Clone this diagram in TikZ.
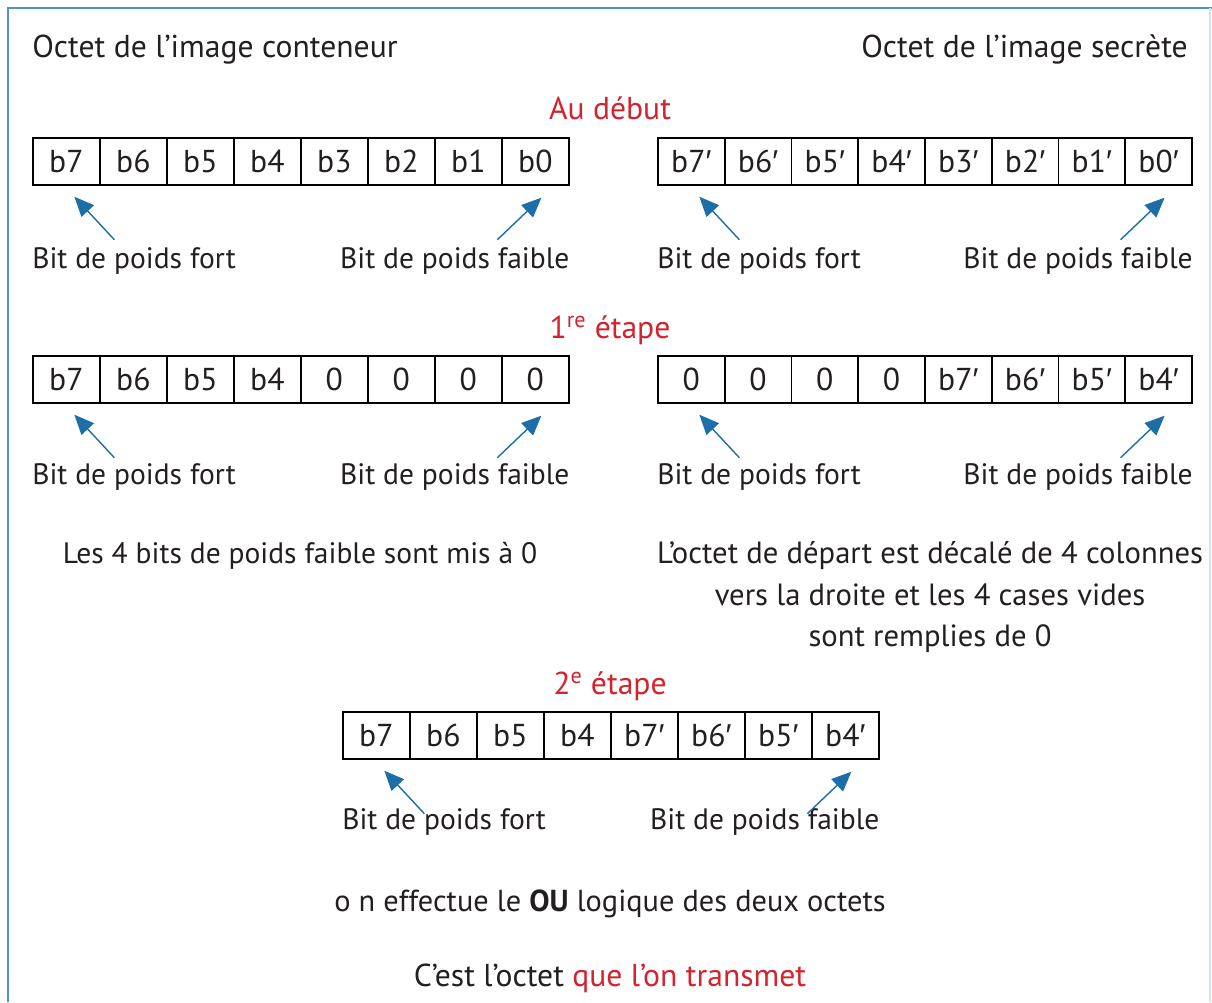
\documentclass[tikz,border=0pt]{standalone}
\usepackage{fontspec}
\setmainfont{PT Sans}
\newfontfamily\primefont{Liberation Sans}
\usetikzlibrary{arrows.meta}
\definecolor{txt}{HTML}{231F20}
\definecolor{hd}{HTML}{D2232E}
\definecolor{ptrblue}{HTML}{1B6EA8}
\definecolor{frameblue}{HTML}{4A93C3}
\newcommand\fsz{\fontsize{21}{25}\selectfont}
\newcommand\fbig{\fontsize{22.5}{27}\selectfont}
\newcommand\pr{{\primefont ′}}

\begin{document}
\begin{tikzpicture}[x=0.025cm,y=-0.025cm,
  cell/.style={draw=black, line width=1.2pt, minimum width=1.675cm,
    minimum height=1.175cm, inner sep=0pt, font=\fontsize{22.5}{27}\selectfont,
    text=txt, anchor=north west},
  lbl/.style={font=\fsz, text=txt, inner sep=0pt},
  big/.style={font=\fbig, text=txt, inner sep=0pt},
  head/.style={font=\fbig, text=hd, inner sep=0pt},
  ptr/.style={draw=ptrblue, line width=1pt, -{Triangle[length=14pt,width=12pt]}}]

\useasboundingbox (0,0) rectangle (1212,1002);

% frame
\draw[frameblue, line width=1.6pt] (8,1002) -- (8,8) -- (1212,8);
\draw[frameblue!25, line width=1pt] (1210,8) -- (1210,1002);

% titles
\node[big, anchor=base west] (tcont) at (32,57) {Octet de l’image conteneur};
\node[big, anchor=base east] (tsec) at (1188,57) {Octet de l’image secrète};

% headings
\node[head, anchor=base] (h0) at (610,119) {Au début};
\node[head, anchor=base] (h1) at (610,338) {1\textsuperscript{re} étape};
\node[head, anchor=base] (h2) at (610,694) {2\textsuperscript{e} étape};

% initial bytes
\foreach \t [count=\i from 0] in {b7,b6,b5,b4,b3,b2,b1,b0}
  \node[cell] (al\i) at ({32+67*\i},137) {\t};
\foreach \t [count=\i from 0] in {b7\pr,b6\pr,b5\pr,b4\pr,b3\pr,b2\pr,b1\pr,b0\pr}
  \node[cell] (ar\i) at ({657+66.75*\i},137) {\t};

% first step
\foreach \t [count=\i from 0] in {b7,b6,b5,b4,0,0,0,0}
  \node[cell] (bl\i) at ({32+67*\i},355) {\t};
\foreach \t [count=\i from 0] in {0,0,0,0,b7\pr,b6\pr,b5\pr,b4\pr}
  \node[cell] (br\i) at ({657+66.75*\i},355) {\t};

% second step
\foreach \t [count=\i from 0] in {b7,b6,b5,b4,b7\pr,b6\pr,b5\pr,b4\pr}
  \node[cell] (c\i) at ({342+67*\i},711) {\t};

% pointers and their labels
\foreach \r/\y in {al/268, ar/268, bl/484, br/484, c/829}{
  \node[lbl, anchor=base west] (\r fort) at (\r0.west |- 0,\y) {Bit de poids fort};
  \node[lbl, anchor=base east] (\r faible) at (\r7.east |- 0,\y) {Bit de poids faible};
  \draw[ptr] ([shift={(48,54)}]\r0.south) -- ([shift={(8,11)}]\r0.south);
  \draw[ptr] ([shift={(-38,54)}]\r7.south) -- ([shift={(6,12)}]\r7.south);
}

% explanations
\node[lbl, anchor=base] (n1) at (300,563) {Les 4 bits de poids faible sont mis à 0};
\node[lbl, anchor=base, font=\fontsize{21.8}{26}\selectfont] (n2a) at (930,563) {L’octet de départ est décalé de 4 colonnes};
\node[lbl, anchor=base, font=\fontsize{21.8}{26}\selectfont] (n2b) at (930,605) {vers la droite et les 4 cases vides};
\node[lbl, anchor=base, font=\fontsize{21.8}{26}\selectfont] (n2c) at (930,646) {sont remplies de 0};
\node[lbl, anchor=base, font=\fontsize{21.6}{26}\selectfont] (n3) at (610,911) {o n effectue le \textbf{OU} logique des deux octets};
\node[big, anchor=base] (n4) at (610,986) {C’est l’octet \textcolor{hd}{que l’on transmet}};
\end{tikzpicture}
\end{document}
